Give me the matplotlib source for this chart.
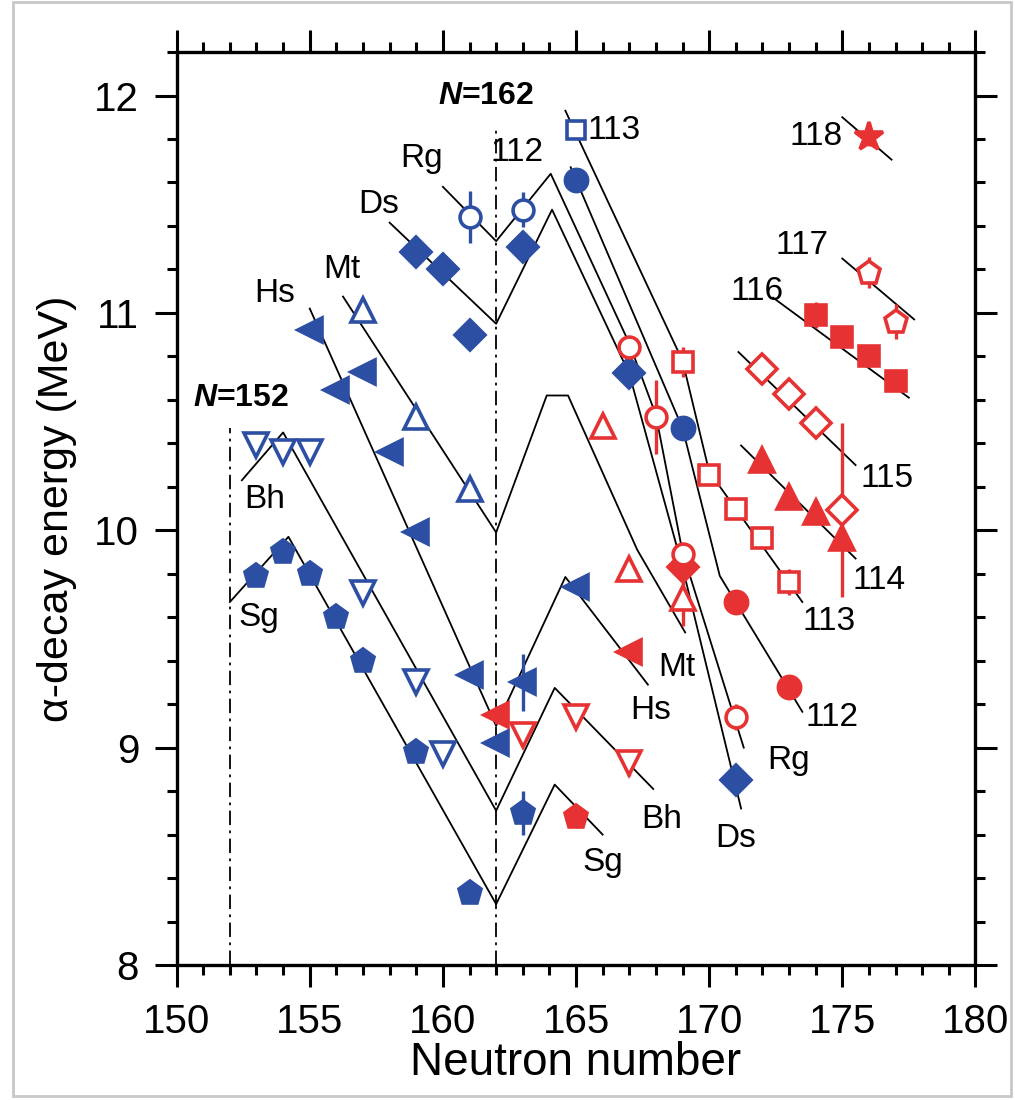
import matplotlib
matplotlib.use('Agg')
import matplotlib.pyplot as plt
from matplotlib.patches import Rectangle
from matplotlib.ticker import MultipleLocator

plt.rcParams['font.family'] = ['Liberation Sans', 'DejaVu Sans']
plt.rcParams['mathtext.fontset'] = 'custom'
plt.rcParams['mathtext.it'] = 'Liberation Sans:italic:bold'
plt.rcParams['mathtext.rm'] = 'Liberation Sans:bold'

BLUE = '#2c4fa3'
RED = '#e63232'

# measured alpha-decay energies (MeV): blue = known, red = new isotopes
sg_n_old = [153, 154, 155, 156, 157, 159, 161, 163]
sg_e_old = [9.79, 9.90, 9.80, 9.60, 9.40, 8.98, 8.33, 8.70]
sg_err_old = [0, 0, 0, 0, 0, 0, 0, 0.10]
sg_n_new = [165]
sg_e_new = [8.68]
sg_err_new = [0.05]

bh_n_old = [153, 154, 155, 157, 159, 160]
bh_e_old = [10.39, 10.36, 10.36, 9.71, 9.30, 8.97]
bh_err_old = [0.03, 0.03, 0.03, 0, 0, 0.03]
bh_n_new = [163, 165, 167]
bh_e_new = [9.06, 9.14, 8.93]
bh_err_new = [0.04, 0.02, 0.06]

hs_n_old = [155, 156, 157, 158, 159, 161, 162, 163, 165]
hs_e_old = [10.92, 10.645, 10.73, 10.36, 9.99, 9.335, 9.02, 9.30, 9.74]
hs_err_old = [0, 0, 0, 0, 0, 0, 0, 0.13, 0]
hs_n_new = [162, 167]
hs_e_new = [9.15, 9.44]
hs_err_new = [0.04, 0]

mt_n_old = [157, 159, 161]
mt_e_old = [11.015, 10.52, 10.19]
mt_err_old = [0, 0, 0.02]
mt_n_new = [166, 167, 169]
mt_e_new = [10.48, 9.82, 9.69]
mt_err_new = [0.03, 0.02, 0.13]

ds_n_old = [159, 160, 161, 163, 167, 171]
ds_e_old = [11.28, 11.20, 10.90, 11.305, 10.725, 8.85]
ds_n_new = [169]
ds_e_new = [9.83]

rg_n_old = [161, 163]
rg_e_old = [11.44, 11.475]
rg_err_old = [0.12, 0.08]
rg_n_new = [167, 168, 169, 171]
rg_e_new = [10.845, 10.52, 9.89, 9.14]
rg_err_new = [0.05, 0.17, 0.05, 0.06]

z112_n_old = [165, 169]
z112_e_old = [11.61, 10.47]
z112_n_new = [171, 173]
z112_e_new = [9.67, 9.28]

z113_n_old = [165]
z113_e_old = [11.84]
z113_n_new = [169, 170, 171, 172, 173]
z113_e_new = [10.775, 10.255, 10.10, 9.965, 9.76]
z113_err_new = [0.07, 0.03, 0.02, 0.03, 0.06]

z114_n = [172, 173, 174, 175]
z114_e = [10.325, 10.155, 10.085, 9.965]
z114_err = [0.03, 0.04, 0.04, 0.03]

z115_n = [172, 173, 174, 175]
z115_e = [10.74, 10.625, 10.495, 10.095]
z115_err = [0.06, 0, 0, 0.40]

z116_n = [174, 175, 176, 177]
z116_e = [10.99, 10.89, 10.80, 10.685]
z116_err = [0.06, 0.05, 0.05, 0.03]

z117_n = [176, 177]
z117_e = [11.185, 10.96]
z117_err = [0.07, 0.08]

z118_n = [176]
z118_e = [11.81]
z118_err = [0.04]

# calculated systematics (black lines), vertices
sg_line_n = [152, 154.2, 162, 164.2, 166]
sg_line_e = [9.67, 9.97, 8.28, 8.83, 8.60]
bh_line_n = [152.45, 154, 162, 164.2, 167.9]
bh_line_e = [10.23, 10.45, 8.71, 9.275, 8.81]
hs_line_n = [155, 162, 164.6, 167.7]
hs_line_e = [11.02, 9.10, 9.785, 9.29]
mt_line_n = [156.25, 162, 163.9, 164.7, 167.3, 169.1]
mt_line_e = [11.075, 9.99, 10.62, 10.62, 9.91, 9.53]
ds_line_n = [158, 162, 164.1, 167, 169, 171.2]
ds_line_e = [11.415, 10.95, 11.475, 10.72, 9.83, 8.72]
rg_line_n = [160, 162, 164.05, 167, 168, 169, 171.3]
rg_line_e = [11.58, 11.33, 11.64, 10.86, 10.53, 9.90, 9.00]
l112_n = [164.8, 169, 170.4, 173.5]
l112_e = [11.67, 10.47, 9.79, 9.165]
l113_n = [164.6, 169, 170, 173.5]
l113_e = [11.93, 10.78, 10.27, 9.67]
l114_n = [171.2, 175.5]
l114_e = [10.39, 9.87]
l115_n = [171.1, 175.5]
l115_e = [10.82, 10.30]
l116_n = [172.4, 177.5]
l116_e = [11.07, 10.61]
l117_n = [175.0, 177.7]
l117_e = [11.25, 10.97]
l118_n = [175.0, 176.85]
l118_e = [11.90, 11.705]

fig = plt.figure(figsize=(10.15, 11.0), dpi=100)
# thin grey frame of the scanned picture
fig.patches.append(Rectangle((0.0125, 0.004), 0.984, 0.994, transform=fig.transFigure,
                             fill=False, edgecolor='#c8c8c8', lw=2))
ax = fig.add_axes([0.174, 0.1227, 0.787, 0.83])

for n, e in [(sg_line_n, sg_line_e), (bh_line_n, bh_line_e), (hs_line_n, hs_line_e),
             (mt_line_n, mt_line_e), (ds_line_n, ds_line_e), (rg_line_n, rg_line_e),
             (l112_n, l112_e), (l113_n, l113_e), (l114_n, l114_e), (l115_n, l115_e),
             (l116_n, l116_e), (l117_n, l117_e), (l118_n, l118_e)]:
    ax.plot(n, e, color='black', lw=1.3, zorder=2)

# magic-number guides
ax.plot([152, 152], [8, 10.47], color='black', lw=1.3, ls=(0, (8, 3, 1.5, 3)), zorder=1)
ax.plot([162, 162], [8, 11.85], color='black', lw=1.3, ls=(0, (8, 3, 1.5, 3)), zorder=1)


def pts(n, e, err, marker, color, filled, ms=16):
    if err is None:
        err = [0] * len(n)
    ax.errorbar(n, e, yerr=err, fmt='none', ecolor=color, elinewidth=2.4, capsize=0, zorder=3)
    ax.plot(n, e, ls='none', marker=marker, ms=ms, mec=color,
            mfc=color if filled else 'white', mew=2.6, zorder=4)


pts(sg_n_old, sg_e_old, sg_err_old, 'p', BLUE, True, 17)
pts(sg_n_new, sg_e_new, sg_err_new, 'p', RED, True, 17)
pts(bh_n_old, bh_e_old, bh_err_old, 'v', BLUE, False, 17)
pts(bh_n_new, bh_e_new, bh_err_new, 'v', RED, False, 17)
pts(hs_n_old, hs_e_old, hs_err_old, '<', BLUE, True, 17)
pts(hs_n_new, hs_e_new, hs_err_new, '<', RED, True, 17)
pts(mt_n_old, mt_e_old, mt_err_old, '^', BLUE, False, 17)
pts(mt_n_new, mt_e_new, mt_err_new, '^', RED, False, 17)
pts(ds_n_old, ds_e_old, None, 'D', BLUE, True, 15)
pts(ds_n_new, ds_e_new, None, 'D', RED, True, 15)
pts(rg_n_old, rg_e_old, rg_err_old, 'o', BLUE, False, 15)
pts(rg_n_new, rg_e_new, rg_err_new, 'o', RED, False, 15)
pts(z112_n_old, z112_e_old, None, 'o', BLUE, True, 16)
pts(z112_n_new, z112_e_new, None, 'o', RED, True, 16)
pts(z113_n_old, z113_e_old, None, 's', BLUE, False, 13)
pts(z113_n_new, z113_e_new, z113_err_new, 's', RED, False, 14)
pts(z114_n, z114_e, z114_err, '^', RED, True, 17)
pts(z115_n, z115_e, z115_err, 'D', RED, False, 15)
pts(z116_n, z116_e, z116_err, 's', RED, True, 15)
pts(z117_n, z117_e, z117_err, 'p', RED, False, 17)
pts(z118_n, z118_e, z118_err, '*', RED, True, 21)

# element labels
labels = [
    ('Rg', 159.2, 11.71), ('Ds', 157.6, 11.50), ('Mt', 156.2, 11.20), ('Hs', 153.7, 11.09),
    ('Bh', 153.3, 10.14), ('Sg', 153.1, 9.60), ('112', 162.8, 11.74), ('118', 174.0, 11.81),
    ('117', 173.5, 11.31), ('116', 171.8, 11.10), ('115', 176.7, 10.24), ('114', 176.4, 9.77),
    ('113', 174.5, 9.58), ('112', 174.6, 9.14), ('Rg', 173.0, 8.94), ('Ds', 171.0, 8.58),
    ('Mt', 168.8, 9.37), ('Hs', 167.8, 9.17), ('Bh', 168.2, 8.67), ('Sg', 166.0, 8.47),
]
for txt, x, y in labels:
    ax.text(x, y, txt, fontsize=24, ha='center', va='center', zorder=5)
ax.text(165.45, 11.84, '113', fontsize=24, ha='left', va='center', zorder=5)
ax.text(161.6, 12.0, r'$N$=162', fontsize=23, fontweight='bold', ha='center', va='center')
ax.text(152.4, 10.61, r'$N$=152', fontsize=23, fontweight='bold', ha='center', va='center')

ax.set_xlim(150, 180)
ax.set_ylim(8, 12.2)
ax.xaxis.set_major_locator(MultipleLocator(5))
ax.xaxis.set_minor_locator(MultipleLocator(1))
ax.yaxis.set_major_locator(MultipleLocator(1))
ax.yaxis.set_minor_locator(MultipleLocator(0.2))
ax.tick_params(which='both', direction='out', top=True, right=True, width=2.2)
ax.tick_params(which='major', length=16, pad=11)
ax.tick_params(which='minor', length=7.5)
for s in ax.spines.values():
    s.set_linewidth(2.4)

for lab in ax.get_xticklabels() + ax.get_yticklabels():
    lab.set_fontsize(29)

ax.set_xlabel('Neutron number', fontsize=33, labelpad=0)
ax.set_ylabel('α-decay energy (MeV)', fontsize=31, labelpad=12)

plt.savefig('out.png', dpi=100)
